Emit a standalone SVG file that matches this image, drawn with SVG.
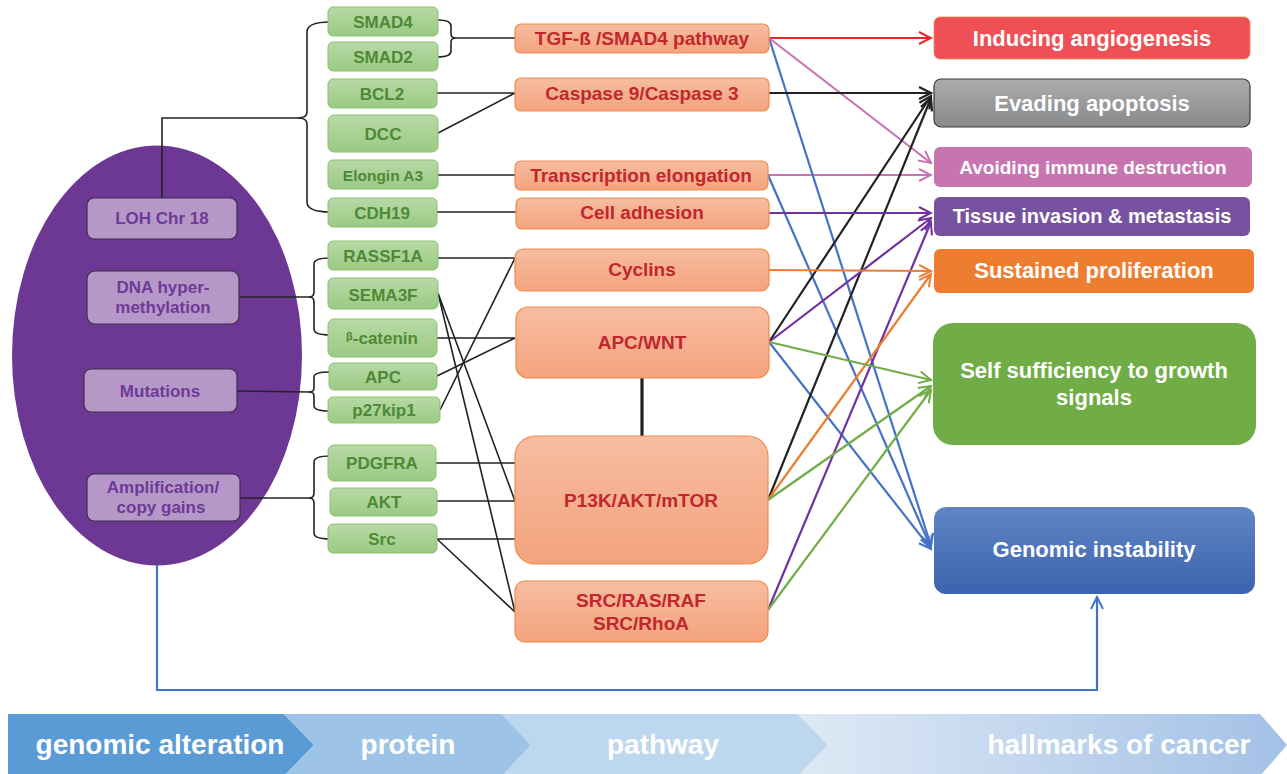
<svg xmlns="http://www.w3.org/2000/svg" width="1287" height="774" viewBox="0 0 1287 774">
<style>
text{font-family:"Liberation Sans",Arial,sans-serif;font-weight:bold;text-anchor:middle}
.gbox{fill:url(#gG);stroke:#8bc26d;stroke-width:1}
.gt{fill:#4e8a35;font-size:17px}
.pbox{fill:#b598c8;stroke:#3d2f49;stroke-width:1.2}
.pt{fill:#6f3a97;font-size:17px}
.obox{fill:url(#gO);stroke:#f08c4c;stroke-width:1.2}
.ot{fill:#c1272d;font-size:19px}
.ht{fill:#fff;font-size:22px}
.bt{fill:#fff;font-size:28px}
.k{stroke:#222;stroke-width:1.6;fill:none}
.c{fill:none;stroke-width:2.2}
</style>
<defs>
<linearGradient id="gG" x1="0" y1="0" x2="0" y2="1"><stop offset="0" stop-color="#b7d9a6"/><stop offset="1" stop-color="#9bca84"/></linearGradient>
<linearGradient id="gO" x1="0" y1="0" x2="0" y2="1"><stop offset="0" stop-color="#f6bda1"/><stop offset="1" stop-color="#f4a37d"/></linearGradient>
<linearGradient id="gGray" x1="0" y1="0" x2="0" y2="1"><stop offset="0" stop-color="#aaacae"/><stop offset="1" stop-color="#87898b"/></linearGradient>
<linearGradient id="gBlue" x1="0" y1="0" x2="0" y2="1"><stop offset="0" stop-color="#6184c4"/><stop offset="1" stop-color="#3a64ae"/></linearGradient>
<linearGradient id="gBar" x1="0" y1="0" x2="1" y2="0"><stop offset="0" stop-color="#dfe9f5"/><stop offset="1" stop-color="#a3c1e6"/></linearGradient>
<marker id="mRed" viewBox="-14 -8 16 16" refX="0" refY="0" markerWidth="16" markerHeight="16" markerUnits="userSpaceOnUse" orient="auto"><path d="M-12,-6 L0,0 L-12,6" fill="none" stroke="#e8262a" stroke-width="2"/></marker>
<marker id="mBlk" viewBox="-14 -8 16 16" refX="0" refY="0" markerWidth="16" markerHeight="16" markerUnits="userSpaceOnUse" orient="auto"><path d="M-12,-6 L0,0 L-12,6" fill="none" stroke="#222" stroke-width="2.2"/></marker>
<marker id="mPnk" viewBox="-14 -8 16 16" refX="0" refY="0" markerWidth="16" markerHeight="16" markerUnits="userSpaceOnUse" orient="auto"><path d="M-12,-6 L0,0 L-12,6" fill="none" stroke="#c675b0" stroke-width="2"/></marker>
<marker id="mPur" viewBox="-14 -8 16 16" refX="0" refY="0" markerWidth="16" markerHeight="16" markerUnits="userSpaceOnUse" orient="auto"><path d="M-12,-6 L0,0 L-12,6" fill="none" stroke="#7030a0" stroke-width="2"/></marker>
<marker id="mOrg" viewBox="-14 -8 16 16" refX="0" refY="0" markerWidth="16" markerHeight="16" markerUnits="userSpaceOnUse" orient="auto"><path d="M-12,-6 L0,0 L-12,6" fill="none" stroke="#ed7d31" stroke-width="2"/></marker>
<marker id="mGrn" viewBox="-14 -8 16 16" refX="0" refY="0" markerWidth="16" markerHeight="16" markerUnits="userSpaceOnUse" orient="auto"><path d="M-12,-6 L0,0 L-12,6" fill="none" stroke="#70ad47" stroke-width="2"/></marker>
<marker id="mBlu" viewBox="-14 -8 16 16" refX="0" refY="0" markerWidth="16" markerHeight="16" markerUnits="userSpaceOnUse" orient="auto"><path d="M-12,-6 L0,0 L-12,6" fill="none" stroke="#4472c4" stroke-width="2"/></marker>
</defs>
<rect width="1287" height="774" fill="#fff"/>

<!-- bottom bar -->
<g id="stage-bar">
<path d="M8,714 L284,714 L314,745 L284,776 L8,776 Z" fill="#5b9bd5"/>
<path d="M284,714 L502,714 L531,745 L502,776 L284,776 L314,745 Z" fill="#9dc3e6"/>
<path d="M502,714 L798,714 L828,745 L798,776 L502,776 L531,745 Z" fill="#bdd7ee"/>
<path d="M798,714 L1260,714 L1287,745 L1260,776 L798,776 L828,745 Z" fill="url(#gBar)"/>
<text class="bt" x="160" y="754">genomic alteration</text>
<text class="bt" x="408" y="754">protein</text>
<text class="bt" x="663" y="754">pathway</text>
<text class="bt" x="1119" y="754">hallmarks of cancer</text>
</g>

<g id="genome">
<ellipse cx="157" cy="355.5" rx="145" ry="210" fill="#6d3894"/>
</g>

<g id="connectors">
<!-- left braces -->
<path class="k" d="M162,198 L162,118 L300,118"/>
<path class="k" d="M330,22 Q307,22 307,32 L307,112 Q307,118 298,118 Q307,118 307,124 L307,202 Q307,212 330,212"/>
<path class="k" d="M239,297 L310,297"/>
<path class="k" d="M330,258 Q314,258 314,264 L314,292 Q314,297 309,297 Q314,297 314,302 L314,329 Q314,335 330,335"/>
<path class="k" d="M237,391 L310,392"/>
<path class="k" d="M330,372 Q314,372 314,377 L314,388 Q314,392 309,392 Q314,392 314,396 L314,406 Q314,411 330,411"/>
<path class="k" d="M240,498 L310,498"/>
<path class="k" d="M330,456 Q314,456 314,462 L314,493 Q314,498 309,498 Q314,498 314,503 L314,533 Q314,539 330,539"/>
<!-- SMAD brace -->
<path class="k" d="M438,20 Q451,20 451,26 L451,34 Q451,38 456,38 Q451,38 451,42 L451,51 Q451,57 438,57"/>
<path class="k" d="M456,38 L515,38"/>
<!-- gene to pathway -->
<path class="k" d="M437,93 L515,93 M438,133 L515,93"/>
<path class="k" d="M438,175 L515,175"/>
<path class="k" d="M437,212 L516,212"/>
<path class="k" d="M438,258 L515,258 L440,410"/>
<path class="k" d="M437,338 L515,338 L437,376"/>
<path class="k" d="M438,293 L515,501 M438,293 L515,612"/>
<path class="k" d="M436,463 L515,463"/>
<path class="k" d="M437,501 L515,501"/>
<path class="k" d="M437,539 L515,539 M437,539 L515,612"/>
<path d="M642,378 L642,436" stroke="#222" stroke-width="3.2" fill="none"/>
<!-- pathway to hallmarks -->
<path class="c" stroke="#e8262a" d="M769,38 L931,38" marker-end="url(#mRed)"/>
<path class="c" stroke="#c675b0" d="M769,38 L931,163" marker-end="url(#mPnk)"/>
<path class="c" stroke="#c675b0" d="M768,175 L931,175" marker-end="url(#mPnk)"/>
<path class="c" stroke="#4472c4" d="M769,38 L931,546" marker-end="url(#mBlu)"/>
<path class="c" stroke="#4472c4" d="M768,175 L931,548" marker-end="url(#mBlu)"/>
<path class="c" stroke="#4472c4" d="M769,342 L931,549" marker-end="url(#mBlu)"/>
<path class="c" stroke="#222" stroke-width="2.6" d="M769,93 L931,93" marker-end="url(#mBlk)"/>
<path class="c" stroke="#222" d="M769,342 L931,96" marker-end="url(#mBlk)"/>
<path class="c" stroke="#222" d="M768,500 L931,98" marker-end="url(#mBlk)"/>
<path class="c" stroke="#7030a0" d="M769,213 L931,213" marker-end="url(#mPur)"/>
<path class="c" stroke="#7030a0" d="M769,342 L931,218" marker-end="url(#mPur)"/>
<path class="c" stroke="#7030a0" d="M768,610 L931,222" marker-end="url(#mPur)"/>
<path class="c" stroke="#ed7d31" d="M769,270 L931,271" marker-end="url(#mOrg)"/>
<path class="c" stroke="#ed7d31" d="M768,500 L931,274" marker-end="url(#mOrg)"/>
<path class="c" stroke="#70ad47" d="M769,342 L931,380" marker-end="url(#mGrn)"/>
<path class="c" stroke="#70ad47" d="M768,500 L931,386" marker-end="url(#mGrn)"/>
<path class="c" stroke="#70ad47" d="M768,610 L931,390" marker-end="url(#mGrn)"/>
<!-- genome to genomic instability -->
<path class="c" stroke="#4472c4" stroke-width="2.6" d="M157,565 L157,690 L1097,690 L1097,597" marker-end="url(#mBlu)"/>
</g>

<!-- alteration nodes -->
<g id="loh"><rect class="pbox" x="87" y="198" width="150" height="41" rx="7"/><text class="pt" x="162" y="224">LOH Chr 18</text></g>
<g id="dna-hypermethylation"><rect class="pbox" x="87" y="271" width="152" height="53" rx="8"/><text class="pt" x="163" y="293">DNA hyper-</text><text class="pt" x="163" y="313">methylation</text></g>
<g id="mutations"><rect class="pbox" x="84" y="369" width="153" height="43" rx="7"/><text class="pt" x="160" y="397">Mutations</text></g>
<g id="amplification"><rect class="pbox" x="87" y="474" width="153" height="47" rx="7"/><text class="pt" x="163" y="493">Amplification/</text><text class="pt" x="161" y="513">copy gains</text></g>

<!-- protein nodes -->
<g id="smad4"><rect class="gbox" x="328" y="7" width="110" height="29" rx="5"/><text class="gt" x="383" y="28">SMAD4</text></g>
<g id="smad2"><rect class="gbox" x="328" y="42" width="110" height="29" rx="5"/><text class="gt" x="383" y="63">SMAD2</text></g>
<g id="bcl2"><rect class="gbox" x="328" y="79" width="109" height="29" rx="5"/><text class="gt" x="382" y="100">BCL2</text></g>
<g id="dcc"><rect class="gbox" x="328" y="115" width="110" height="37" rx="6"/><text class="gt" x="383" y="140">DCC</text></g>
<g id="elongin"><rect class="gbox" x="328" y="160" width="110" height="29" rx="5"/><text class="gt" x="383" y="181" style="font-size:15.5px">Elongin A3</text></g>
<g id="cdh19"><rect class="gbox" x="328" y="198" width="109" height="29" rx="5"/><text class="gt" x="382" y="219">CDH19</text></g>
<g id="rassf1a"><rect class="gbox" x="328" y="241" width="110" height="29" rx="5"/><text class="gt" x="383" y="262">RASSF1A</text></g>
<g id="sema3f"><rect class="gbox" x="328" y="278" width="110" height="31" rx="5"/><text class="gt" x="383" y="301">SEMA3F</text></g>
<g id="bcatenin"><rect class="gbox" x="328" y="319" width="109" height="38" rx="6"/><text class="gt" x="382" y="344"><tspan style="font-size:11px" dy="-4">β</tspan><tspan dy="4">-catenin</tspan></text></g>
<g id="apc"><rect class="gbox" x="329" y="363" width="108" height="27" rx="5"/><text class="gt" x="383" y="383">APC</text></g>
<g id="p27kip1"><rect class="gbox" x="328" y="397" width="112" height="26" rx="5"/><text class="gt" x="384" y="416">p27kip1</text></g>
<g id="pdgfra"><rect class="gbox" x="328" y="445" width="108" height="36" rx="6"/><text class="gt" x="382" y="469">PDGFRA</text></g>
<g id="akt"><rect class="gbox" x="330" y="488" width="107" height="28" rx="5"/><text class="gt" x="384" y="508">AKT</text></g>
<g id="src"><rect class="gbox" x="328" y="524" width="109" height="29" rx="5"/><text class="gt" x="382" y="545">Src</text></g>

<!-- pathway nodes -->
<g id="tgf"><rect class="obox" x="515" y="24" width="254" height="29" rx="6"/><text class="ot" x="642" y="45">TGF-ß /SMAD4 pathway</text></g>
<g id="caspase"><rect class="obox" x="515" y="78" width="254" height="33" rx="6"/><text class="ot" x="642" y="100">Caspase 9/Caspase 3</text></g>
<g id="transcription"><rect class="obox" x="515" y="161" width="253" height="29" rx="6"/><text class="ot" x="641" y="182">Transcription elongation</text></g>
<g id="adhesion"><rect class="obox" x="516" y="198" width="253" height="31" rx="6"/><text class="ot" x="642" y="219">Cell adhesion</text></g>
<g id="cyclins"><rect class="obox" x="515" y="249" width="254" height="42" rx="8"/><text class="ot" x="642" y="276">Cyclins</text></g>
<g id="apcwnt"><rect class="obox" x="516" y="307" width="253" height="71" rx="12"/><text class="ot" x="642" y="349">APC/WNT</text></g>
<g id="pi3k"><rect class="obox" x="515" y="436" width="253" height="128" rx="20"/><text class="ot" x="641" y="507">P13K/AKT/mTOR</text></g>
<g id="srcras"><rect class="obox" x="515" y="581" width="253" height="61" rx="10"/><text class="ot" x="641" y="607">SRC/RAS/RAF</text><text class="ot" x="641" y="630">SRC/RhoA</text></g>

<!-- hallmark nodes -->
<g id="angiogenesis"><rect x="934" y="17" width="316" height="42" rx="6" fill="#ef5055" stroke="#f08c4c" stroke-width="0.8"/><text class="ht" x="1092" y="46">Inducing angiogenesis</text></g>
<g id="apoptosis"><rect x="934" y="79" width="316" height="48" rx="7" fill="url(#gGray)" stroke="#3a3a3a" stroke-width="1.2"/><text class="ht" x="1092" y="111">Evading apoptosis</text></g>
<g id="immune"><rect x="934" y="147" width="318" height="40" rx="6" fill="#c675b0"/><text class="ht" x="1093" y="174" style="font-size:19px">Avoiding immune destruction</text></g>
<g id="invasion"><rect x="934" y="197" width="316" height="39" rx="6" fill="#7652a1"/><text class="ht" x="1092" y="223" style="font-size:20px">Tissue invasion &amp; metastasis</text></g>
<g id="proliferation"><rect x="934" y="249" width="320" height="44" rx="6" fill="#ed7d31"/><text class="ht" x="1094" y="278">Sustained proliferation</text></g>
<g id="growth"><rect x="933" y="323" width="323" height="122" rx="20" fill="#70ad47"/><text class="ht" x="1094" y="378">Self sufficiency to growth</text><text class="ht" x="1094" y="405">signals</text></g>
<g id="instability"><rect x="934" y="507" width="321" height="87" rx="12" fill="url(#gBlue)"/><text class="ht" x="1094" y="557">Genomic instability</text></g>
</svg>
